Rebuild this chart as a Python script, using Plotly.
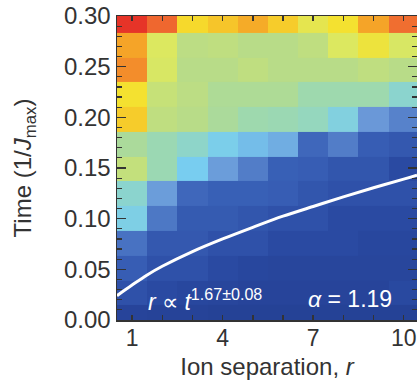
import plotly.graph_objects as go

# Ion separation (column centres) and time (row centres, 1/Jmax)
r_vals = [1, 2, 3, 4, 5, 6, 7, 8, 9, 10]
t_vals = [0.003, 0.027, 0.051, 0.076, 0.100, 0.125, 0.149, 0.173, 0.198, 0.222, 0.247, 0.271, 0.295]

# Correlation spreading (normalised), rows bottom -> top
z_rows = [
    [0.06, 0.05, 0.05, 0.04, 0.04, 0.04, 0.04, 0.04, 0.04, 0.04],
    [0.13, 0.10, 0.08, 0.07, 0.06, 0.06, 0.06, 0.06, 0.06, 0.09],
    [0.18, 0.13, 0.13, 0.10, 0.08, 0.07, 0.07, 0.07, 0.07, 0.07],
    [0.23, 0.16, 0.16, 0.13, 0.13, 0.10, 0.10, 0.10, 0.08, 0.08],
    [0.42, 0.24, 0.17, 0.17, 0.15, 0.13, 0.13, 0.10, 0.10, 0.10],
    [0.46, 0.31, 0.21, 0.19, 0.19, 0.18, 0.15, 0.13, 0.13, 0.13],
    [0.63, 0.51, 0.40, 0.31, 0.25, 0.19, 0.18, 0.15, 0.15, 0.10],
    [0.56, 0.51, 0.47, 0.41, 0.37, 0.34, 0.21, 0.25, 0.18, 0.16],
    [0.79, 0.62, 0.60, 0.56, 0.52, 0.51, 0.49, 0.43, 0.30, 0.26],
    [0.755, 0.64, 0.61, 0.57, 0.57, 0.57, 0.52, 0.52, 0.52, 0.46],
    [0.88, 0.69, 0.60, 0.60, 0.62, 0.60, 0.60, 0.60, 0.62, 0.60],
    [0.85, 0.70, 0.61, 0.62, 0.60, 0.60, 0.62, 0.70, 0.74, 0.69],
    [1.00, 0.93, 0.77, 0.80, 0.84, 0.79, 0.72, 0.755, 0.85, 0.92],
]

# Light-cone fit curve r ∝ t^1.67
fit_r = [0.5, 1, 1.5, 2, 3, 4, 5, 6, 7, 8, 9, 10, 10.44]
fit_t = [0.0240, 0.0345, 0.0445, 0.0530, 0.0675, 0.0800, 0.0915, 0.1025, 0.1120, 0.1215, 0.1305, 0.1390, 0.1430]

x_tickvals = [1, 2, 3, 4, 5, 6, 7, 8, 9, 10]
x_ticktext = ["1", "", "", "4", "", "", "7", "", "", "10"]
y_tickvals = [0.00, 0.05, 0.10, 0.15, 0.20, 0.25, 0.30]
y_ticktext = ["0.00", "0.05", "0.10", "0.15", "0.20", "0.25", "0.30"]

colorscale = [
    [0.00, "#223c8e"],
    [0.10, "#2a4aa2"],
    [0.20, "#3a62b8"],
    [0.30, "#6a98d8"],
    [0.40, "#78cdf0"],
    [0.50, "#98d8b8"],
    [0.60, "#b8dc88"],
    [0.70, "#dce860"],
    [0.76, "#f6e02c"],
    [0.85, "#f5a428"],
    [0.92, "#f06e30"],
    [1.00, "#e63428"],
]

font_family = "Liberation Sans, Arial, Helvetica, sans-serif"
axis_col = "#333333"

L, R, T, B = 117, 0, 16, 66
W, H = 417, 386
x_range = [0.5, 10.44]
y_range = [0, 0.30]
px_per_x = (W - L - R) / (x_range[1] - x_range[0])

fig = go.Figure()
fig.add_trace(go.Heatmap(x=r_vals, y=t_vals, z=z_rows, colorscale=colorscale,
                         zmin=0, zmax=1, showscale=False, hoverinfo="skip"))
fig.add_trace(go.Scatter(x=fit_r, y=fit_t, mode="lines", line=dict(color="white", width=3, shape="spline"),
                         hoverinfo="skip", showlegend=False))

fig.update_layout(
    template="none",
    width=W, height=H,
    margin=dict(l=L, r=R, t=T, b=B, pad=0),
    paper_bgcolor="white", plot_bgcolor="white",
    font=dict(family=font_family, size=24, color=axis_col),
    showlegend=False,
    xaxis=dict(range=x_range, tickvals=x_tickvals, ticktext=x_ticktext, automargin=False,
               ticks="inside", ticklen=5, tickwidth=1.5, tickcolor=axis_col,
               showline=True, linecolor=axis_col, linewidth=1.5, mirror="ticks",
               showgrid=False, zeroline=False, tickfont=dict(size=23), ticklabelstandoff=-3,
               title=dict(text="Ion separation, <i>r</i>", standoff=8, font=dict(size=24))),
    yaxis=dict(range=y_range, tickvals=y_tickvals, ticktext=y_ticktext, automargin=False,
               ticks="inside", ticklen=9, tickwidth=1.5, tickcolor=axis_col,
               minor=dict(dtick=0.01, ticks="inside", ticklen=5, tickwidth=1.2, tickcolor=axis_col),
               showline=True, linecolor=axis_col, linewidth=1.5, mirror="ticks",
               showgrid=False, zeroline=False, tickfont=dict(size=24),
               title=dict(text="Time (1/<i>J</i><sub>max</sub>)", standoff=25, font=dict(size=24))),
    annotations=[
        dict(x=x_range[0] + (146 - L) / px_per_x, y=0.0195, xref="x", yref="y",
             xanchor="left", yanchor="middle", showarrow=False,
             text="<i>r</i> ∝ <i>t</i><sup>1.67±0.08</sup>",
             font=dict(color="white", size=23, family=font_family)),
        dict(x=(394 - L) / (W - L - R), y=0.0205, xref="paper", yref="y",
             xanchor="right", yanchor="middle", showarrow=False,
             text="<i>α</i> = 1.19", font=dict(color="white", size=23, family=font_family)),
    ],
)

fig.write_html("out.html", config={"displayModeBar": False, "staticPlot": True},
               post_script="document.body.style.margin='0';document.body.style.overflow='hidden';")
